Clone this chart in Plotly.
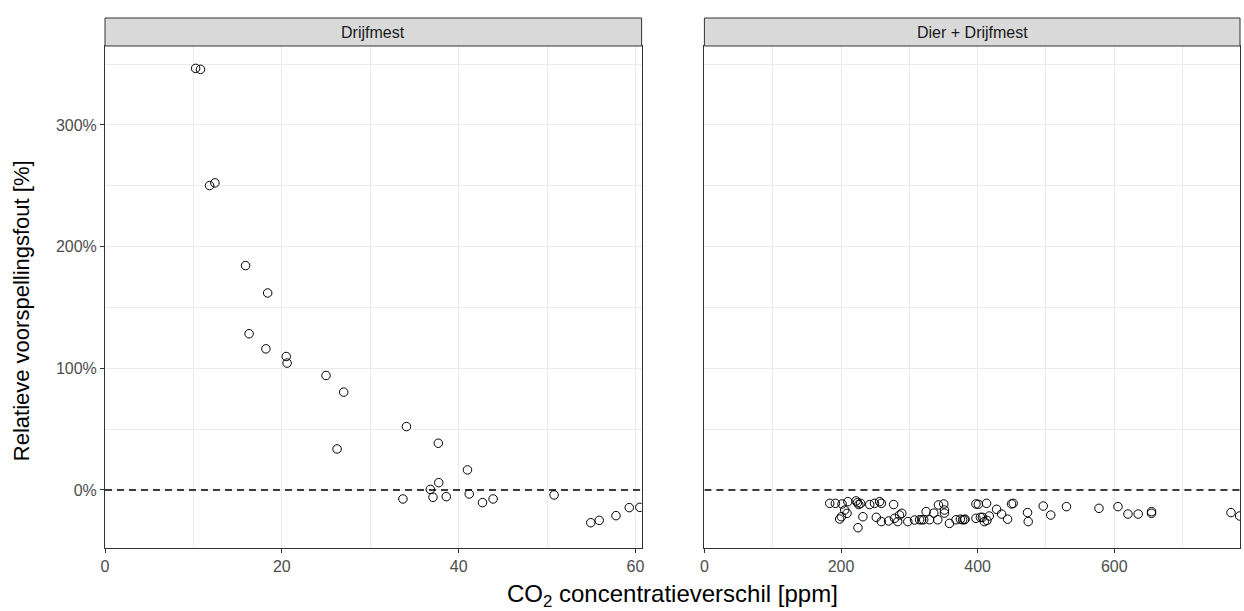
import plotly.graph_objects as go

# Left panel: Drijfmest
drijf_x = [10.25, 10.8, 11.83, 12.43, 15.9, 18.4, 16.3, 18.2, 20.5, 20.6, 25.0, 27.0,
           34.1, 26.25, 37.7, 41.0, 37.75, 36.8, 33.7, 37.1, 38.6, 41.2, 42.7, 43.9,
           50.8, 54.95, 55.9, 57.8, 59.3, 60.5]
drijf_y = [346.5, 345.7, 250.2, 252.4, 184.4, 161.9, 128.4, 116.0, 109.7, 104.3, 94.1, 80.4,
           52.1, 33.7, 38.4, 16.5, 6.0, 0.5, -7.4, -6.0, -5.5, -3.3, -10.4, -7.4,
           -4.1, -26.9, -25.0, -21.1, -14.5, -14.3]

# Right panel: Dier + Drijfmest
dier_x = [183.5, 191.7, 201.5, 210, 222, 224, 226, 228.7, 242, 249, 256.5, 259, 277,
          205.4, 208.8, 200.5, 198, 232, 224.8, 251.6, 259, 269.6, 278.4, 283, 285.6, 289,
          297.8, 307.6, 315, 318, 321, 324.6, 329.5, 335.8, 341.6, 342.6, 350.4, 351.4,
          351.4, 358.7, 368.3, 378, 380.6, 397.5, 397.5,
          374.7, 381.5, 401, 413, 404, 407, 409.8, 413.6, 417, 427.7, 435, 443.8, 449.6,
          452, 473, 474, 496, 507, 530, 577.6, 605.4, 620, 635, 654.5, 654.5, 770.8, 783.5]
dier_y = [-11, -11, -11.5, -9.6, -9.0, -10.5, -12, -11, -12, -11, -9.6, -11, -12,
          -16.5, -19.2, -22, -23.9, -22, -31, -22.5, -26, -25.5, -23.3, -26, -20.6, -19.2,
          -26, -24.7, -24.5, -24.5, -24.5, -17.8, -24.5, -19, -24.5, -12.3, -11.5, -16.5,
          -19, -27.5, -24.5, -24.5, -24.5, -11.5, -23.3,
          -24, -24, -11.8, -11, -22.5, -22.5, -26, -25, -21.4, -15.9, -19.8, -24, -11.5,
          -11, -18.6, -26, -13.2, -20.6, -13.7, -15.1, -13.7, -19.8, -19.8, -17.8, -19.2, -18.6, -21.4]

panel_titles = ["Drijfmest", "Dier + Drijfmest"]
y_ticks = [0, 100, 200, 300]
y_labels = ["0%", "100%", "200%", "300%"]
left_xticks = [0, 20, 40, 60]
right_xticks = [0, 200, 400, 600]

FONT = "Liberation Sans, Arial, sans-serif"
GRID = "#EBEBEB"
BORDER = "#333333"
TICKC = "#4D4D4D"

fig = go.Figure()

marker = dict(symbol="circle-open", size=8.5, color="black", line=dict(width=1, color="black"))
fig.add_trace(go.Scatter(x=drijf_x, y=drijf_y, mode="markers", marker=marker,
                         xaxis="x", yaxis="y", showlegend=False))
fig.add_trace(go.Scatter(x=dier_x, y=dier_y, mode="markers", marker=marker,
                         xaxis="x2", yaxis="y2", showlegend=False))

# dashed zero lines
fig.add_trace(go.Scatter(x=[0, 60.7], y=[0, 0], mode="lines",
                         line=dict(color="black", width=1.6, dash="7px,5px"),
                         xaxis="x", yaxis="y", showlegend=False, hoverinfo="skip"))
fig.add_trace(go.Scatter(x=[0, 784], y=[0, 0], mode="lines",
                         line=dict(color="black", width=1.6, dash="7px,5px"),
                         xaxis="x2", yaxis="y2", showlegend=False, hoverinfo="skip"))

d1 = [0, 0.4728]
d2 = [0.5281, 1.0]

common_x = dict(showline=True, mirror=True, linecolor=BORDER, linewidth=1,
                ticks="outside", ticklen=4, tickcolor=BORDER, tickwidth=1,
                showgrid=True, gridcolor=GRID, gridwidth=1.1, zeroline=False,
                tickfont=dict(family=FONT, size=16, color=TICKC))
yrange = [-47.7, 364.9]

fig.update_layout(
    width=1244, height=611,
    margin=dict(l=105, r=1, t=46, b=63),
    paper_bgcolor="white", plot_bgcolor="white",
    font=dict(family=FONT),
    xaxis=dict(domain=d1, range=[0, 60.7], tickvals=left_xticks,
               minor=dict(tickvals=[10, 30, 50], showgrid=True, gridcolor=GRID, gridwidth=0.6, ticks=""),
               anchor="y", **common_x),
    xaxis2=dict(domain=d2, range=[0, 784], tickvals=right_xticks,
                minor=dict(tickvals=[100, 300, 500, 700], showgrid=True, gridcolor=GRID, gridwidth=0.6, ticks=""),
                anchor="y2", **common_x),
    yaxis=dict(range=yrange, tickvals=y_ticks, ticktext=y_labels, anchor="x",
               minor=dict(tickvals=[-50, 50, 150, 250, 350], showgrid=True, gridcolor=GRID, gridwidth=0.6, ticks=""),
               showline=True, mirror=True, linecolor=BORDER, linewidth=1,
               ticks="outside", ticklen=4, tickcolor=BORDER, tickwidth=1,
               showgrid=True, gridcolor=GRID, gridwidth=1.1, zeroline=False,
               tickfont=dict(family=FONT, size=16, color=TICKC)),
    yaxis2=dict(range=yrange, tickvals=y_ticks, anchor="x2", matches="y",
                minor=dict(tickvals=[-50, 50, 150, 250, 350], showgrid=True, gridcolor=GRID, gridwidth=0.6, ticks=""),
                showticklabels=False, ticks="",
                showline=True, mirror=True, linecolor=BORDER, linewidth=1,
                showgrid=True, gridcolor=GRID, gridwidth=1.1, zeroline=False),
)

# strips
strip_h = 28 / 502
for dom, title in zip([d1, d2], panel_titles):
    fig.add_shape(type="rect", xref="paper", yref="paper", x0=dom[0], x1=dom[1],
                  y0=1, y1=1 + strip_h, fillcolor="#D9D9D9", line=dict(color=BORDER, width=1), layer="above")
    fig.add_annotation(xref="paper", yref="paper", x=(dom[0] + dom[1]) / 2, y=1 + strip_h / 2,
                       text=title, showarrow=False, font=dict(family=FONT, size=16, color="#1A1A1A"),
                       xanchor="center", yanchor="middle")

# axis titles
fig.add_annotation(xref="paper", yref="paper", x=0.5, y=-47 / 502,
                   text="CO<sub>2</sub> concentratieverschil [ppm]", showarrow=False,
                   font=dict(family=FONT, size=24, color="black"), xanchor="center", yanchor="middle")
fig.add_annotation(xref="paper", yref="paper", x=(21 - 105) / 1138, y=(548 - 311) / 502,
                   text="Relatieve voorspellingsfout [%]", showarrow=False, textangle=-90,
                   font=dict(family=FONT, size=22, color="black"), xanchor="center", yanchor="middle")

fig.write_html("out.html", config={"displayModeBar": False},
               post_script="document.body.style.margin='0';document.body.style.padding='0';")
